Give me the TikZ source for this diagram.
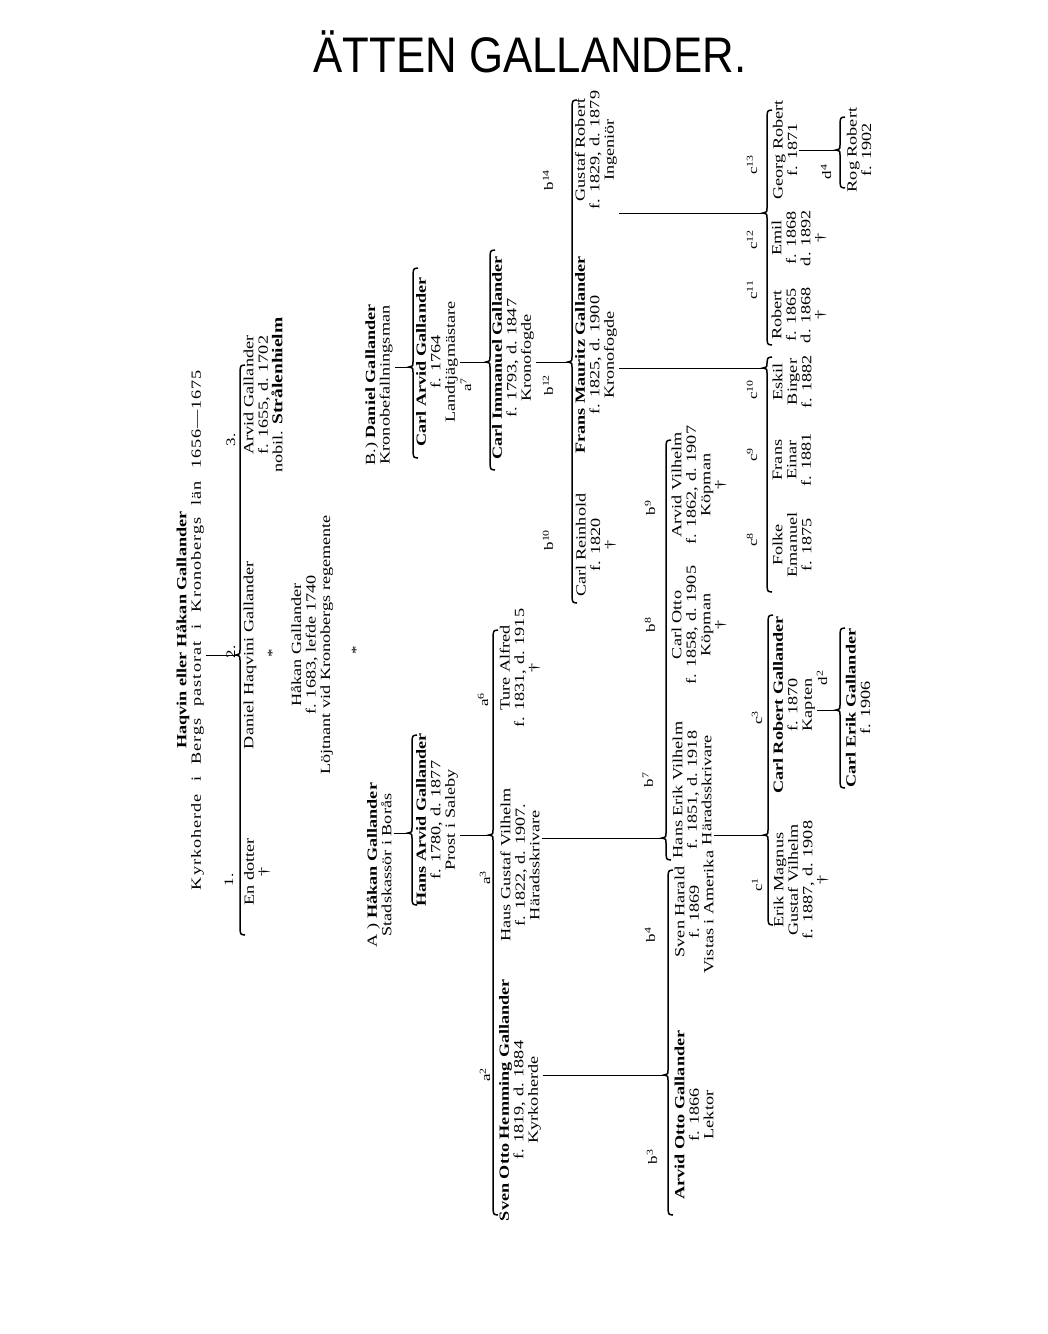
\documentclass[tikz,border=0pt]{standalone}
\usepackage{fontspec}
\setmainfont{Liberation Serif}[FakeStretch=1.3]
\newfontfamily\titlefont{Liberation Sans}
\newcommand\pfont{\fontsize{14}{14.5}\selectfont}
\newcommand\lfont{\fontsize{13}{13}\selectfont}
\tikzset{
  person/.style={rotate=90, align=center, inner sep=2pt, font=\pfont},
  lbl/.style={rotate=90, inner sep=0pt, font=\lfont},
  famline/.style={line width=1.5pt},
  conn/.style={line width=0.6pt},
}
% #1 tip name, #2 x, #3 ytop, #4 ybot, #5 ytip
\newcommand{\famBrace}[5]{%
  \coordinate (#1) at ({#2-4},#5);
  \draw[famline] ({#2+5},#3) .. controls ({#2+0.5},{#3+0.5}) .. (#2,{#3+6})
    -- (#2,{#5-5}) .. controls (#2,{#5-1}) .. ({#2-4},#5)
    .. controls (#2,{#5+1}) .. (#2,{#5+5})
    -- (#2,{#4-6}) .. controls ({#2+0.5},{#4-0.5}) .. ({#2+5},#4);
}
\begin{document}
\begin{tikzpicture}[x=1pt,y=-1pt]
\path[use as bounding box] (0,0) rectangle (1048,1334);

% title
\node[font=\titlefont\fontsize{50}{50}\selectfont, xscale=0.875, inner sep=0pt] (title) at (530,52) {ÄTTEN GALLANDER.};

% generation 0
\node[person] (haqvin) at (190,630) {\textbf{Haqvin eller Håkan Gallander}\\\makebox[520pt][s]{\addfontfeature{LetterSpace=7}Kyrkoherde i Bergs pastorat i Kronobergs län 1656—1675}};
\famBrace{t1}{240}{365}{935}{655}
\draw[conn] (t1 -| haqvin.south) -- (t1);
\node[lbl] (n1) at (229,880) {1.};
\node[lbl] (n2) at (231,652) {2.};
\node[lbl] (n3) at (231,440) {3.};

\node[person] (dotter) at (257,872) {En dotter\\†};
\node[person] (danielh) at (250,655) {Daniel Haqvini Gallander};
\node[lbl] (star1) at (272,653) {*};
\node[person] (hakan1683) at (312,645) {Håkan Gallander\\f. 1683, lefde 1740\\Löjtnant vid Kronobergs regemente};
\node[lbl] (star2) at (356,650) {*};
\node[person] (arvid1655) at (263,395) {Arvid Gallander\\f. 1655, d. 1702\\nobil. \textbf{\fontsize{15}{14.5}\selectfont Strålenhielm}};

% branch A
\node[person] (hakanA) at (379,865) {A ) \textbf{Håkan Gallander}\\Stadskassör i Borås};
\famBrace{t2}{412}{735}{905}{833}
\draw[conn] (t2 -| hakanA.south) -- (t2);
\node[person] (hansarvid) at (437,820) {\textbf{Hans Arvid Gallander}\\f. 1780, d. 1877\\Prost i Saleby};
\famBrace{t3}{493}{630}{1215}{835}
\draw[conn] (t3 -| hansarvid.south) -- (t3);
\node[lbl] (la2) at (485,1075) {a\textsuperscript{2}};
\node[lbl] (la3) at (485,878) {a\textsuperscript{3}};
\node[lbl] (la6) at (483,700) {a\textsuperscript{6}};

\node[person] (svenotto) at (520,1100) {\textbf{Sven Otto Hemming Gallander}\\f. 1819, d. 1884\\Kyrkoherde};
\node[person] (hansgustaf) at (520,865) {Haus Gustaf Vilhelm\\f. 1822, d. 1907.\\Häradsskrivare};
\node[person] (ture) at (520,668) {Ture Alfred\\f. 1831, d. 1915\\†};

\famBrace{t4}{668}{870}{1215}{1075}
\draw[conn] (t4 -| svenotto.south) -- (t4);
\node[lbl] (lb3) at (652,1157) {b\textsuperscript{3}};
\node[lbl] (lb4) at (650,935) {b\textsuperscript{4}};
\node[person] (arvidotto) at (694,1115) {\textbf{Arvid Otto Gallander}\\f. 1866\\Lektor};
\node[person] (svenharald) at (694,912) {Sven Harald\\f. 1869\\Vistas i Amerika};

\famBrace{t5}{666}{440}{860}{838}
\draw[conn] (t5 -| hansgustaf.south) -- (t5);
\node[lbl] (lb7) at (648,780) {b\textsuperscript{7}};
\node[lbl] (lb8) at (650,625) {b\textsuperscript{8}};
\node[lbl] (lb9) at (650,508) {b\textsuperscript{9}};
\node[person] (hanserik) at (692,790) {Hans Erik Vilhelm\\f. 1851, d. 1918\\Häradsskrivare};
\node[person] (carlotto) at (699,625) {Carl Otto\\f. 1858, d. 1905\\Köpman\\†};
\node[person] (arvidvilhelm) at (699,485) {Arvid Vilhelm\\f. 1862, d. 1907\\Köpman\\†};

\famBrace{t6}{768}{615}{925}{835}
\draw[conn] (t6 -| hanserik.south) -- (t6);
\node[lbl] (lc1) at (757,885) {c\textsuperscript{1}};
\node[lbl] (lc3) at (757,718) {c\textsuperscript{3}};
\node[person] (erikmagnus) at (801,880) {Erik Magnus\\Gustaf Vilhelm\\f. 1887, d. 1908\\†};
\node[person] (carlrobert) at (794,705) {\textbf{Carl Robert Gallander}\\f. 1870\\Kapten};

\famBrace{t7}{840}{628}{788}{710}
\draw[conn] (t7 -| carlrobert.south) -- (t7);
\node[lbl] (ld2) at (822,678) {d\textsuperscript{2}};
\node[person] (carlerik) at (858,708) {\textbf{Carl Erik Gallander}\\f. 1906};

% branch B
\node[person] (danielB) at (379,385) {B.) \textbf{Daniel Gallander}\\Kronobefallningsman};
\famBrace{t8}{413}{268}{458}{367}
\draw[conn] (t8 -| danielB.south) -- (t8);
\node[person] (carlarvid) at (437,362) {\textbf{Carl Arvid Gallander}\\f. 1764\\Landtjägmästare};
\node[lbl] (la7) at (466,385) {a\textsuperscript{7}};
\famBrace{t9}{490}{250}{470}{362}
\draw[conn] (t9 -| carlarvid.south) -- (t9);
\node[person] (carlimmanuel) at (513,358) {\textbf{Carl Immanuel Gallander}\\f. 1793, d. 1847\\Kronofogde};

\famBrace{t10}{572}{100}{603}{362}
\draw[conn] (t10 -| carlimmanuel.south) -- (t10);
\node[lbl] (lb10) at (548,540) {b\textsuperscript{10}};
\node[lbl] (lb12) at (548,385) {b\textsuperscript{12}};
\node[lbl] (lb14) at (548,180) {b\textsuperscript{14}};
\node[person] (carlreinhold) at (596,545) {Carl Reinhold\\f. 1820\\†};
\node[person] (fransmauritz) at (596,355) {\textbf{Frans Mauritz Gallander}\\f. 1825, d. 1900\\Kronofogde};
\node[person] (gustafrobert) at (596,150) {Gustaf Robert\\f. 1829, d. 1879\\Ingeniör};

\famBrace{t11}{767}{357}{592}{368}
\draw[conn] (t11 -| fransmauritz.south) -- (t11);
\node[lbl] (lc8) at (752,540) {c\textsuperscript{8}};
\node[lbl] (lc9) at (752,455) {c\textsuperscript{9}};
\node[lbl] (lc10) at (752,390) {c\textsuperscript{10}};
\node[person] (folke) at (792,545) {Folke\\Emanuel\\f. 1875};
\node[person] (franseinar) at (792,460) {Frans\\Einar\\f. 1881};
\node[person] (eskil) at (792,382) {Eskil\\Birger\\f. 1882};

\famBrace{t12}{767}{110}{345}{213}
\draw[conn] (t12 -| gustafrobert.south) -- (t12);
\node[lbl] (lc11) at (752,290) {c\textsuperscript{11}};
\node[lbl] (lc12) at (752,240) {c\textsuperscript{12}};
\node[lbl] (lc13) at (752,165) {c\textsuperscript{13}};
\node[person] (robert) at (799,315) {Robert\\f. 1865\\d. 1868\\†};
\node[person] (emil) at (799,238) {Emil\\f. 1868\\d. 1892\\†};
\node[person] (georg) at (785,150) {Georg Robert\\f. 1871};

\famBrace{t13}{840}{117}{188}{150}
\draw[conn] (t13 -| georg.south) -- (t13);
\node[lbl] (ld4) at (826,172) {d\textsuperscript{4}};
\node[person] (rog) at (859,150) {Rog Robert\\f. 1902};
\end{tikzpicture}
\end{document}
